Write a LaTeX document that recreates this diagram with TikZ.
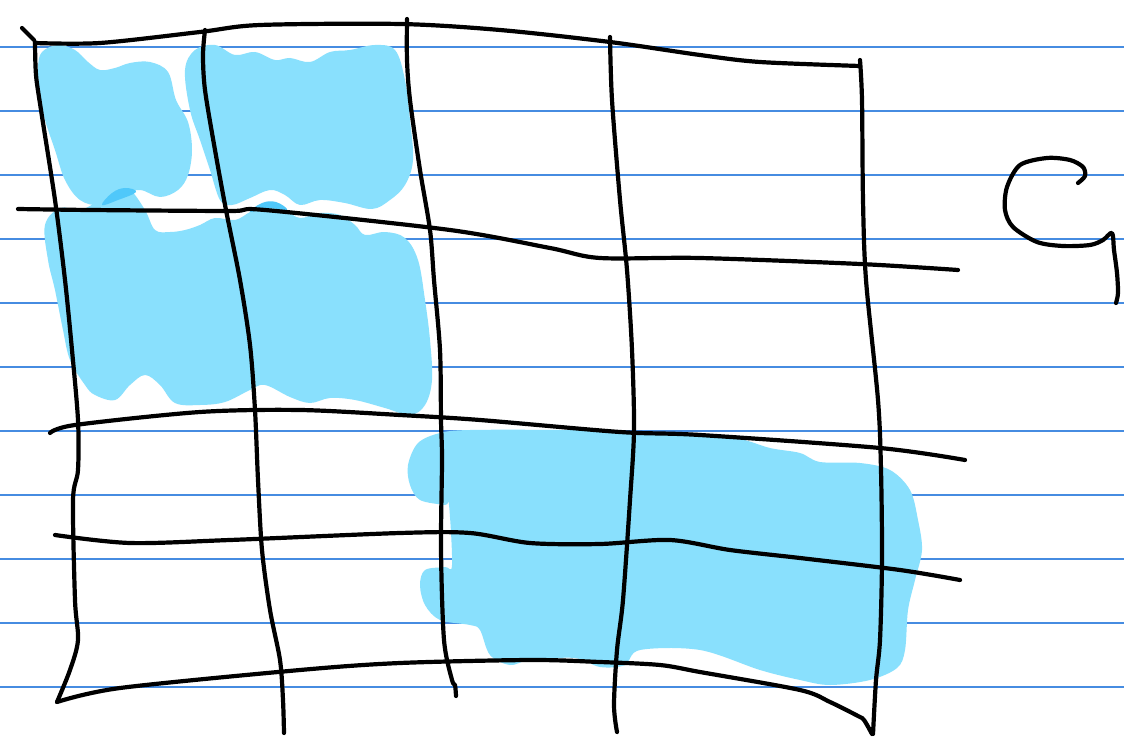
\documentclass[tikz,border=0pt]{standalone}
\begin{document}
\begin{tikzpicture}[x=1pt,y=-1pt,
  rule/.style={draw={rgb,255:red,70;green,140;blue,225}, line width=1.1pt},
  hl/.style={fill={rgb,255:red,137;green,224;blue,253}, draw=none},
  hldark/.style={fill={rgb,255:red,80;green,200;blue,250}, draw=none},
  ink/.style={draw=black, line width=4.2pt, line cap=round, line join=round}]
\useasboundingbox (0,0) rectangle (1124,738);
\fill[white] (0,0) rectangle (1124,738);
% ruled paper
\foreach \yy in {47,111,175,239,303,367,431,495,559,623,687}
  \draw[rule] (0,\yy) -- (1124,\yy);
% highlight blobs
\fill[hl] plot[smooth cycle, tension=0.6] coordinates {(38,68) (42,52) (58,45) (75,50) (88,62) (100,70) (115,68) (130,63) (150,62) (168,72) (176,100) (188,122) (192,150) (188,175) (178,190) (160,197) (140,190) (120,195) (100,205) (80,200) (65,180) (55,150) (45,120) (40,95)};
\fill[hl] plot[smooth cycle, tension=0.6] coordinates {(185,70) (195,50) (215,45) (235,55) (255,52) (275,60) (290,58) (310,62) (330,52) (350,50) (375,45) (395,50) (405,80) (410,120) (413,160) (405,185) (390,200) (372,209) (345,203) (320,200) (300,205) (285,195) (270,190) (250,198) (232,205) (220,200) (210,170) (200,140) (190,110)};
\fill[hl] plot[smooth cycle, tension=0.6] coordinates {(45,225) (60,208) (80,210) (100,200) (115,190) (130,190) (145,210) (155,230) (170,232) (185,230) (200,225) (215,218) (235,220) (250,212) (265,205) (285,210) (300,218) (320,213) (340,215) (355,225) (365,235) (385,232) (405,238) (418,260) (425,300) (430,340) (432,380) (425,405) (410,415) (385,408) (355,400) (330,398) (310,403) (290,397) (265,385) (250,390) (225,402) (200,405) (175,403) (160,385) (145,375) (130,385) (115,400) (95,395) (85,385) (70,360) (63,330) (55,290) (48,260)};
\fill[hl] plot[smooth cycle, tension=0.55] coordinates {(408,465) (418,443) (440,433) (470,430) (560,430) (650,432) (730,437) (770,448) (800,453) (820,462) (860,463) (890,470) (910,490) (918,520) (922,550) (915,580) (908,610) (905,650) (897,668) (870,680) (830,685) (800,680) (760,670) (700,650) (640,650) (625,665) (600,667) (575,658) (530,660) (510,665) (490,655) (480,630) (470,625) (440,620) (425,605) (420,585) (425,570) (445,567) (452,565) (449,505) (445,505) (420,500) (410,485)};
\fill[hldark] plot[smooth cycle, tension=0.7] coordinates {(102,205) (112,193) (125,188) (136,192) (118,200)};
\fill[hldark] plot[smooth cycle, tension=0.7] coordinates {(250,212) (262,203) (276,202) (287,210) (268,208)};
% grid lines
\draw[ink] plot[smooth, tension=0.5] coordinates {(22,28) (34,40)};
\draw[ink] plot[smooth, tension=0.5] coordinates {(35,43) (100,43) (200,32) (260,25) (400,24) (500,30) (610,42) (700,55) (760,62) (860,66)};
\draw[ink] plot[smooth, tension=0.5] coordinates {(18,209) (90,210) (230,211) (265,210) (450,230) (550,248) (600,258) (700,258) (860,264) (958,270)};
\draw[ink] plot[smooth, tension=0.5] coordinates {(50,433) (75,425) (200,412) (300,410) (400,415) (480,420) (620,432) (700,435) (880,448) (965,460)};
\draw[ink] plot[smooth, tension=0.5] coordinates {(55,535) (130,543) (230,540) (400,533) (470,533) (530,543) (600,544) (670,540) (730,550) (800,558) (900,570) (960,580)};
\draw[ink] plot[smooth, tension=0.5] coordinates {(57,702) (120,688) (300,670) (400,663) (530,660) (600,662) (660,665) (700,672) (800,690) (830,702) (858,716) (864,720) (872,734)};
% verticals
\draw[ink] plot[smooth, tension=0.5] coordinates {(35,42) (36,75) (41,110) (55,200) (65,280) (72,350) (78,420) (78,470) (73,500) (75,600) (78,640) (70,670) (57,702)};
\draw[ink] plot[smooth, tension=0.5] coordinates {(205,30) (203,55) (205,90) (215,150) (226,210) (240,280) (250,345) (255,410) (258,480) (262,550) (270,610) (280,660) (283,700) (284,733)};
\draw[ink] plot[smooth, tension=0.5] coordinates {(407,19) (407,60) (410,100) (420,170) (430,230) (434,280) (440,350) (441,420) (442,460) (441,550) (444,640) (452,680) (455,685) (456,696)};
\draw[ink] plot[smooth, tension=0.5] coordinates {(610,37) (612,100) (620,200) (627,270) (632,350) (634,430) (630,500) (623,600) (617,650) (614,705) (617,732)};
\draw[ink] plot[smooth, tension=0.5] coordinates {(860,60) (862,100) (863,200) (866,280) (878,400) (881,470) (882,560) (880,640) (876,680) (873,734)};
% handwritten letter
\draw[ink] plot[smooth, tension=0.5] coordinates {(1078,183) (1085,176) (1083,167) (1070,160) (1047,158) (1020,165) (1007,187) (1005,210) (1013,227) (1037,242) (1063,246) (1090,245) (1103,240) (1112,233) (1114,250) (1117,273) (1118,293) (1116,303)};
\end{tikzpicture}
\end{document}
